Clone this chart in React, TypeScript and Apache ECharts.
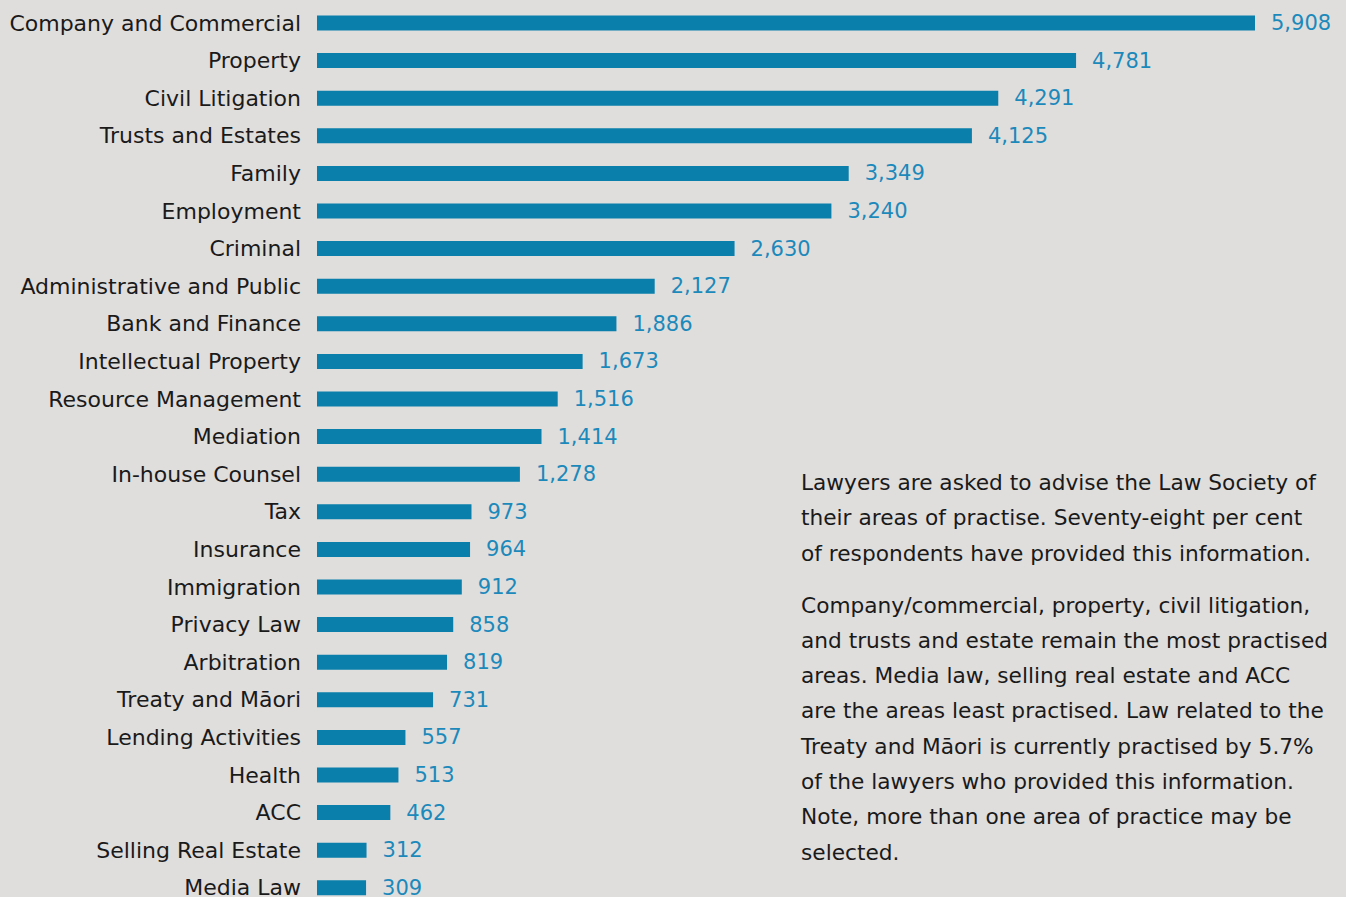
import React, { useEffect, useRef } from "react";
import * as echarts from "echarts";

const categories = [
  "Company and Commercial",
  "Property",
  "Civil Litigation",
  "Trusts and Estates",
  "Family",
  "Employment",
  "Criminal",
  "Administrative and Public",
  "Bank and Finance",
  "Intellectual Property",
  "Resource Management",
  "Mediation",
  "In-house Counsel",
  "Tax",
  "Insurance",
  "Immigration",
  "Privacy Law",
  "Arbitration",
  "Treaty and Māori",
  "Lending Activities",
  "Health",
  "ACC",
  "Selling Real Estate",
  "Media Law",
];

const values = [
  5908, 4781, 4291, 4125, 3349, 3240, 2630, 2127, 1886, 1673, 1516, 1414, 1278,
  973, 964, 912, 858, 819, 731, 557, 513, 462, 312, 309,
];

const paragraph1 = [
  "Lawyers are asked to advise the Law Society of",
  "their areas of practise. Seventy-eight per cent",
  "of respondents have provided this information.",
];

const paragraph2 = [
  "Company/commercial, property, civil litigation,",
  "and trusts and estate remain the most practised",
  "areas. Media law, selling real estate and ACC",
  "are the areas least practised. Law related to the",
  "Treaty and Māori is currently practised by 5.7%",
  "of the lawyers who provided this information.",
  "Note, more than one area of practice may be",
  "selected.",
];

const FONT = "'DejaVu Sans', sans-serif";

export default function App() {
  const ref = useRef<HTMLDivElement>(null);
  useEffect(() => {
    if (!ref.current) return;
    const chart = echarts.init(ref.current, undefined, { renderer: "svg" });
    const texts: any[] = [];
    paragraph1.forEach((t, i) => {
      texts.push({
        type: "text",
        x: 801,
        y: 482 + i * 35.5,
        style: { text: t, fontSize: 21.7, fontFamily: FONT, fill: "#1a1a1a", verticalAlign: "middle" },
      });
    });
    paragraph2.forEach((t, i) => {
      texts.push({
        type: "text",
        x: 801,
        y: 605 + i * 35.3,
        style: { text: t, fontSize: 21.7, fontFamily: FONT, fill: "#1a1a1a", verticalAlign: "middle" },
      });
    });
    chart.setOption({
      animation: false,
      backgroundColor: "#dfdedd",
      grid: { left: 317, top: 4.2, width: 938, height: 24 * 37.6 },
      xAxis: {
        type: "value",
        min: 0,
        max: 5908,
        show: false,
      },
      yAxis: {
        type: "category",
        data: categories,
        inverse: true,
        axisLine: { show: false },
        axisTick: { show: false },
        splitLine: { show: false },
        axisLabel: {
          margin: 16,
          fontSize: 22,
          fontFamily: FONT,
          color: "#1a1a1a",
        },
      },
      series: [
        {
          type: "bar",
          data: values,
          barWidth: 15,
          itemStyle: { color: "#0a7fab" },
          label: {
            show: true,
            position: "right",
            distance: 16,
            fontSize: 21,
            fontFamily: FONT,
            color: "#1c89bb",
            formatter: (p: any) => Number(p.value).toLocaleString("en-US"),
          },
        },
      ],
      graphic: texts,
    });
    return () => chart.dispose();
  }, []);
  return (
    <div style={{ position: "absolute", left: 0, top: 0, width: 1346, height: 897, overflow: "hidden" }}>
      <div ref={ref} style={{ width: 1346, height: 920 }} />
    </div>
  );
}
